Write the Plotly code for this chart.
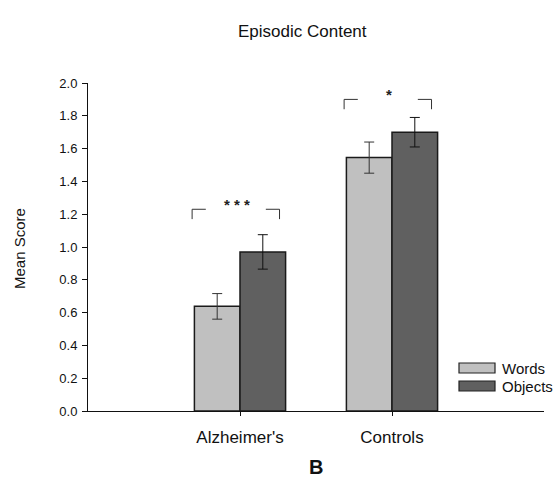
import plotly.graph_objects as go

categories = ["Alzheimer's", "Controls"]
words = [0.638, 1.545]
words_err = [0.078, 0.095]
objects = [0.97, 1.70]
objects_err = [0.105, 0.09]
sig_labels = ["* * *", "*"]
bracket_y = [1.23, 1.90]
y_ticks = [0.0, 0.2, 0.4, 0.6, 0.8, 1.0, 1.2, 1.4, 1.6, 1.8, 2.0]

FONT = "Liberation Sans, Arial, sans-serif"
c_words = "#c0c0c0"
c_objects = "#606060"

fig = go.Figure()
fig.add_trace(go.Bar(
    x=categories, y=words, name="Words", width=0.3, offset=-0.3,
    marker=dict(color=c_words, line=dict(color="#1a1a1a", width=1.5)),
    error_y=dict(type="data", array=words_err, color="#333333", thickness=1, width=5),
    showlegend=False,
))
fig.add_trace(go.Bar(
    x=categories, y=objects, name="Objects", width=0.3, offset=0,
    marker=dict(color=c_objects, line=dict(color="#1a1a1a", width=1.5)),
    error_y=dict(type="data", array=objects_err, color="#111111", thickness=1, width=5),
    showlegend=False,
))

shapes = []
annotations = []
for i, (lab, by) in enumerate(zip(sig_labels, bracket_y)):
    x0, x1 = i - 0.315, i + 0.26
    seg = 0.09
    drop = 0.06
    for path in [
        f"M {x0} {by-drop} L {x0} {by} L {x0+seg} {by}",
        f"M {x1-seg} {by} L {x1} {by} L {x1} {by-drop}",
    ]:
        shapes.append(dict(type="path", xref="x", yref="y", path=path,
                           line=dict(color="#333333", width=1)))
    annotations.append(dict(x=(x0 + x1) / 2 + 0.005, y=by + 0.03, xref="x", yref="y",
                            text=f"<b>{lab}</b>", showarrow=False,
                            font=dict(family=FONT, size=15, color="#222222")))

# legend drawn manually
leg_items = [("Words", c_words), ("Objects", c_objects)]
for k, (name, col) in enumerate(leg_items):
    ytop = 363 + k * 18
    shapes.append(dict(type="rect", xref="paper", yref="paper",
                       x0=(459 - 88) / 456, x1=(495 - 88) / 456,
                       y0=(411 - ytop) / 328, y1=(411 - ytop - 10) / 328,
                       fillcolor=col, line=dict(color="#222222", width=1.2)))
    annotations.append(dict(x=(500 - 88) / 456, y=(411 - ytop - 5) / 328,
                            xref="paper", yref="paper", xanchor="left", yanchor="middle",
                            text=name, showarrow=False,
                            font=dict(family=FONT, size=15, color="#111111")))

annotations.append(dict(x=(302 - 88) / 456, y=(411 - 31) / 328, xref="paper", yref="paper",
                        xanchor="center", yanchor="middle",
                        text="Episodic Content", showarrow=False,
                        font=dict(family=FONT, size=17, color="#111111")))
annotations.append(dict(x=(316 - 88) / 456, y=(411 - 467) / 328, xref="paper", yref="paper",
                        xanchor="center", yanchor="middle",
                        text="<b>B</b>", showarrow=False,
                        font=dict(family=FONT, size=20, color="#111111")))
annotations.append(dict(x=(19 - 88) / 456, y=(411 - 249) / 328, xref="paper", yref="paper",
                        xanchor="center", yanchor="middle",
                        text="Mean Score", showarrow=False, textangle=-90,
                        font=dict(family=FONT, size=15, color="#111111")))

fig.update_layout(
    width=555, height=481,
    margin=dict(l=88, r=11, t=83, b=70),
    paper_bgcolor="white", plot_bgcolor="white",
    barmode="overlay",
    showlegend=False,
    shapes=shapes, annotations=annotations,
    font=dict(family=FONT, color="#111111"),
)
fig.update_xaxes(
    type="category", range=[-1, 2], showline=True, linecolor="#111111", linewidth=1.2,
    ticks="outside", ticklen=4, tickcolor="#111111", showgrid=False, zeroline=False,
    tickfont=dict(family=FONT, size=17, color="#111111"), ticklabelstandoff=6,
)
fig.update_yaxes(
    range=[0, 2.0], tickvals=y_ticks, tickformat=".1f", showline=True,
    linecolor="#111111", linewidth=1, ticks="outside", ticklen=5, tickcolor="#111111",
    showgrid=False, zeroline=False, ticklabelstandoff=2,
    tickfont=dict(family=FONT, size=13, color="#111111"),
)

fig.write_html("out.html", config={"displayModeBar": False},
               post_script="document.body.style.margin='0';document.body.style.overflow='hidden';")
